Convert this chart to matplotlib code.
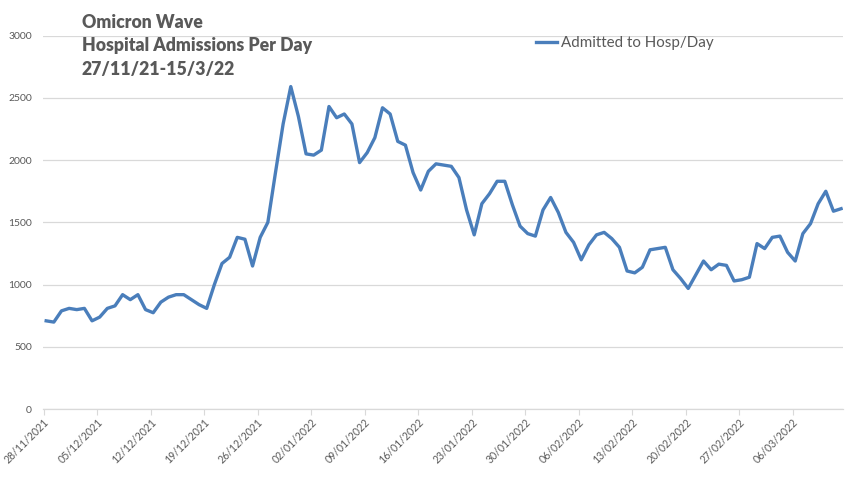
import numpy as np
import pandas as pd
import matplotlib
matplotlib.use("Agg")
from matplotlib import pyplot as plt

plt.rcParams['font.family'] = ['Lato', 'DejaVu Sans']

# daily admissions
start_date = "2021-11-28"
admissions = [
    710, 700, 790, 810, 800, 810, 710, 740, 810, 830,
    920, 880, 920, 800, 775, 860, 900, 920, 920, 880,
    840, 810, 1000, 1170, 1220, 1380, 1365, 1150, 1380, 1500,
    1900, 2290, 2590, 2350, 2050, 2040, 2080, 2430, 2340, 2370,
    2290, 1980, 2060, 2180, 2420, 2370, 2150, 2120, 1900, 1760,
    1910, 1970, 1960, 1950, 1860, 1600, 1400, 1650, 1730, 1830,
    1830, 1640, 1470, 1410, 1390, 1600, 1700, 1580, 1420, 1340,
    1200, 1320, 1400, 1420, 1370, 1300, 1110, 1095, 1140, 1280,
    1290, 1300, 1120, 1050, 970, 1080, 1190, 1120, 1165, 1155,
    1030, 1040, 1060, 1330, 1290, 1380, 1390, 1260, 1190, 1410,
    1490, 1650, 1750, 1590, 1610,
]
dates = pd.date_range(start_date, periods=len(admissions), freq="D")
tick_dates = dates[::7]
tick_labels = [d.strftime("%d/%m/%Y") for d in tick_dates]

title_lines = ["Omicron Wave", "Hospital Admissions Per Day", "27/11/21-15/3/22"]
legend_label = "Admitted to Hosp/Day"
y_ticks = [0, 500, 1000, 1500, 2000, 2500, 3000]

grey = "#595959"
grid_grey = "#d9d9d9"
line_blue = "#4a7ebb"

fig = plt.figure(figsize=(8.56, 4.78), dpi=100)
ax = fig.add_axes([43 / 856, 1 - 409.3 / 478, 800 / 856, (409.3 - 35.5) / 478])

ax.plot(dates, admissions, color=line_blue, linewidth=2.4, label=legend_label,
        solid_joinstyle="round")

ax.set_ylim(0, 3000)
ax.set_yticks(y_ticks)
ax.set_xlim(dates[0] - pd.Timedelta(hours=10), dates[-1] + pd.Timedelta(hours=6))
# excel puts the tick marks a little left of the day's point
ax.set_xticks(tick_dates - pd.Timedelta(hours=8))
ax.set_xticklabels(tick_labels, rotation=45, ha="right", rotation_mode="anchor")

ax.grid(axis="y", color=grid_grey, linewidth=0.9)
ax.set_axisbelow(True)
for s in ["top", "right", "left"]:
    ax.spines[s].set_visible(False)
ax.spines["bottom"].set_color(grid_grey)
ax.spines["bottom"].set_linewidth(0.9)

ax.tick_params(axis="y", length=0, labelsize=7.5, labelcolor=grey, pad=8)
ax.tick_params(axis="x", length=4, color=grid_grey, labelsize=7.6, labelcolor=grey, pad=1)

for i, t in enumerate(title_lines):
    fig.text(82 / 856, 1 - (22 + 23.5 * i) / 478, t, fontsize=12.7, fontweight="heavy",
             color=grey, va="center", ha="left")

leg = ax.legend(loc="upper left", bbox_to_anchor=((522 - 43) / 800, 1.035), frameon=False,
                fontsize=10.9, handlelength=1.4, handletextpad=0.3)
for txt in leg.get_texts():
    txt.set_color(grey)

fig.savefig("out.png", dpi=100)
